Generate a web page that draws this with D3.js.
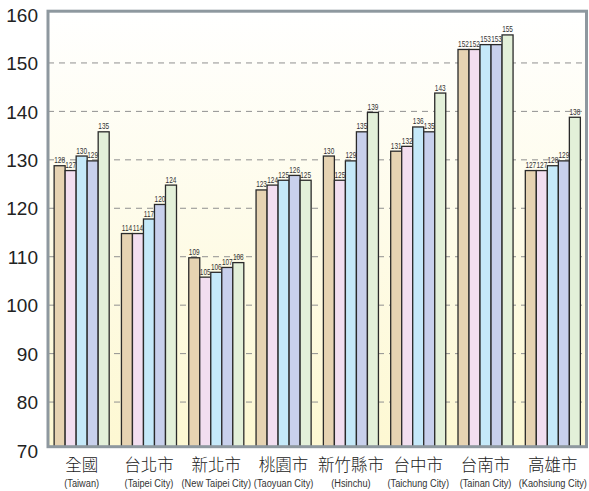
<!DOCTYPE html>
<html>
<head>
<meta charset="utf-8">
<script src="https://cdn.jsdelivr.net/npm/d3@7/dist/d3.min.js"></script>
<style>
  html, body { margin: 0; padding: 0; background: #ffffff; }
  svg { display: block; }
</style>
</head>
<body>
<svg id="chart" width="589" height="491"></svg>
<script>
// Regions along the x axis
const regionsZh = ["全國", "台北市", "新北市", "桃園市", "新竹縣市", "台中市", "台南市", "高雄市"];
const regionsEn = ["(Taiwan)", "(Taipei City)", "(New Taipei City)", "(Taoyuan City)", "(Hsinchu)", "(Taichung City)", "(Tainan City)", "(Kaohsiung City)"];

// Five series per region (index values)
const series1 = [128, 114, 109, 123, 130, 131, 152, 127];
const series2 = [127, 114, 105, 124, 125, 132, 152, 127];
const series3 = [130, 117, 106, 125, 129, 136, 153, 128];
const series4 = [129, 120, 107, 126, 135, 135, 153, 129];
const series5 = [135, 124, 108, 125, 139, 143, 155, 138];
const seriesList = [series1, series2, series3, series4, series5];
const seriesColors = ["#e6d3b2", "#f2def0", "#c5e9f9", "#c8d0ec", "#e3f0d9"];

// Y axis
const yTicks = [70, 80, 90, 100, 110, 120, 130, 140, 150, 160];
const yMin = 70, yMax = 160;

const svg = d3.select("#chart");
const plotLeft = 48, plotRight = 586.5;

const x = d3.scaleBand()
  .domain(d3.range(regionsZh.length))
  .range([plotLeft, plotRight])
  .paddingInner(0.182)
  .paddingOuter(0.091);

const xs = d3.scaleBand()
  .domain(d3.range(seriesList.length))
  .range([0, x.bandwidth()]);

const y = d3.scaleLinear().domain([yMin, yMax]).range([450.5, 14.5]);

// The framed plot box sits a few pixels above the tick positions
const shift = -3.8;
const frameTop = y(yMax) + shift + 0.5;
const frameBottom = y(yMin) + shift;

// Condensed sans text: regular face squeezed horizontally
const narrowFont = "Liberation Sans, Arial, sans-serif";

// Background gradient
const defs = svg.append("defs");
const grad = defs.append("linearGradient")
  .attr("id", "bg").attr("x1", 0).attr("y1", 0).attr("x2", 0).attr("y2", 1);
grad.append("stop").attr("offset", "0%").attr("stop-color", "#ffffff");
grad.append("stop").attr("offset", "100%").attr("stop-color", "#fdf8d2");

svg.append("rect")
  .attr("x", plotLeft).attr("y", frameTop)
  .attr("width", plotRight - plotLeft).attr("height", frameBottom - frameTop)
  .attr("fill", "url(#bg)");

// Dashed grid lines
svg.append("g")
  .selectAll("line")
  .data(yTicks.filter(t => t > yMin && t < yMax))
  .join("line")
  .attr("x1", plotLeft).attr("x2", plotRight)
  .attr("y1", d => y(d)).attr("y2", d => y(d))
  .attr("stroke", "#909090")
  .attr("stroke-width", 1)
  .attr("stroke-dasharray", "6,5");

// Y axis labels
const yAxis = d3.axisLeft(y).tickValues(yTicks).tickSize(0).tickPadding(0).tickFormat(d3.format("d"));
const yG = svg.append("g").attr("transform", "translate(38,0)").call(yAxis);
yG.select(".domain").remove();
yG.selectAll("text")
  .attr("font-family", "Liberation Sans, Arial, sans-serif")
  .attr("font-size", 19)
  .attr("fill", "#222")
  .attr("dy", "0.35em");

// Bars
const groups = svg.append("g").attr("transform", `translate(0,${shift})`)
  .selectAll("g.region")
  .data(regionsZh.map((r, i) => i))
  .join("g")
  .attr("class", "region")
  .attr("transform", i => `translate(${x(i)},0)`);

groups.selectAll("rect")
  .data(i => seriesList.map((s, k) => ({ k, v: s[i] })))
  .join("rect")
  .attr("x", d => xs(d.k))
  .attr("width", xs.bandwidth())
  .attr("y", d => y(d.v))
  .attr("height", d => y(yMin) - y(d.v))
  .attr("fill", d => seriesColors[d.k])
  .attr("stroke", "#2a2a2a")
  .attr("stroke-width", 1.3);

groups.selectAll("text")
  .data(i => seriesList.map((s, k) => ({ k, v: s[i] })))
  .join("text")
  .attr("transform", d => `translate(${xs(d.k) + xs.bandwidth() / 2},${y(d.v) - 2.5}) scale(0.72,1)`)
  .attr("text-anchor", "middle")
  .attr("font-family", narrowFont)
  .attr("font-size", 9)
  .attr("fill", "#333")
  .text(d => d.v);

// Frame
svg.append("rect")
  .attr("x", plotLeft).attr("y", frameTop)
  .attr("width", plotRight - plotLeft).attr("height", frameBottom - frameTop)
  .attr("fill", "none")
  .attr("stroke", "#8e989f")
  .attr("stroke-width", 3);

// X axis labels
const xl = svg.append("g");
xl.selectAll("text.zh")
  .data(regionsZh)
  .join("text")
  .attr("class", "zh")
  .attr("x", (d, i) => x(i) + x.bandwidth() / 2)
  .attr("y", 471)
  .attr("text-anchor", "middle")
  .attr("font-family", "Noto Sans CJK TC, sans-serif")
  .attr("font-weight", 300)
  .attr("font-size", 16.5)
  .attr("fill", "#222")
  .text(d => d);

xl.selectAll("text.en")
  .data(regionsEn)
  .join("text")
  .attr("class", "en")
  .attr("transform", (d, i) => `translate(${x(i) + x.bandwidth() / 2},487) scale(0.84,1)`)
  .attr("text-anchor", "middle")
  .attr("font-family", narrowFont)
  .attr("font-size", 11)
  .attr("fill", "#333")
  .text(d => d);
</script>
</body>
</html>
